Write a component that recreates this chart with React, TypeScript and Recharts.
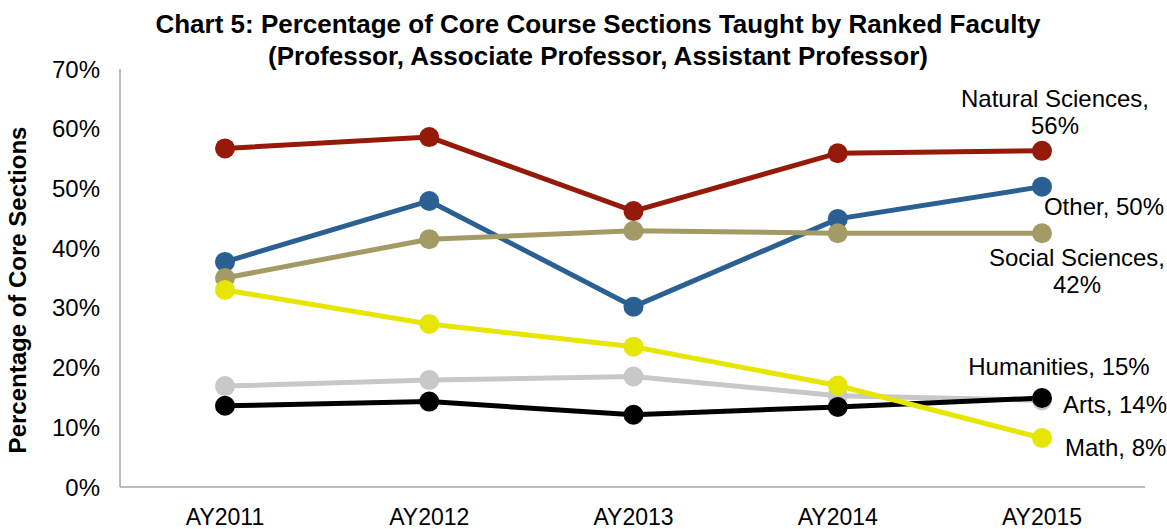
import { LineChart, Line, XAxis, YAxis, LabelList } from 'recharts'

const years = ['AY2011', 'AY2012', 'AY2013', 'AY2014', 'AY2015']
const naturalSciences = [56.7, 58.6, 46.2, 55.9, 56.3]
const other = [37.7, 47.9, 30.2, 44.9, 50.3]
const socialSciences = [35.0, 41.5, 42.9, 42.5, 42.5]
const math = [33.0, 27.3, 23.5, 17.0, 8.2]
const arts = [16.9, 17.9, 18.5, 15.3, 14.5]
const humanities = [13.6, 14.3, 12.1, 13.4, 14.9]
const yTicks = [0, 10, 20, 30, 40, 50, 60, 70]

const data = years.map((year, i) => ({
  year,
  naturalSciences: naturalSciences[i],
  other: other[i],
  socialSciences: socialSciences[i],
  math: math[i],
  arts: arts[i],
  humanities: humanities[i]
}))

const font = 'Arial, "Liberation Sans", sans-serif'

interface EndLabelSpec {
  lines: string[]
  dx: number
  dy: number[]
  anchor: 'start' | 'middle'
}

// only the last point gets a label, like the Excel original
const endLabel = (spec: EndLabelSpec) => (props: any) => {
  const { x, y, index } = props
  if (index !== years.length - 1) return null
  return (
    <text fontSize={24} fontFamily={font} fill="#000" textAnchor={spec.anchor}>
      {spec.lines.map((l, i) => (
        <tspan key={i} x={x + spec.dx} y={y + spec.dy[i]}>{l}</tspan>
      ))}
    </text>
  )
}

const series = [
  { key: 'naturalSciences', color: '#961A0A', label: { lines: ['Natural Sciences,', '56%'], dx: 13, dy: [-44, -17], anchor: 'middle' } },
  { key: 'other', color: '#2A6092', label: { lines: ['Other, 50%'], dx: 62, dy: [28], anchor: 'middle' } },
  { key: 'socialSciences', color: '#A39A66', label: { lines: ['Social Sciences,', '42%'], dx: 35, dy: [33, 60], anchor: 'middle' } },
  { key: 'arts', color: '#C8C8C8', label: { lines: ['Arts, 14%'], dx: 21, dy: [13], anchor: 'start' } },
  { key: 'humanities', color: '#000000', label: { lines: ['Humanities, 15%'], dx: 17, dy: [-23], anchor: 'middle' } },
  { key: 'math', color: '#E6E600', label: { lines: ['Math, 8%'], dx: 23, dy: [18], anchor: 'start' } }
] as { key: string; color: string; label: EndLabelSpec }[]

const YTitle = () => (
  <text
    x={26}
    y={290}
    transform="rotate(-90 26 290)"
    textAnchor="middle"
    fontSize={24}
    fontWeight="bold"
    fontFamily={font}
    fill="#000"
  >
    Percentage of Core Sections
  </text>
)

export default function App() {
  return (
    <div style={{ position: 'absolute', left: 0, top: 0, width: 1167, height: 529, background: '#fff' }}>
      <div
        style={{
          position: 'absolute',
          left: 98,
          top: 8,
          width: 1000,
          textAlign: 'center',
          fontFamily: font,
          fontWeight: 'bold',
          fontSize: 26,
          lineHeight: '32px',
          color: '#000'
        }}
      >
        Chart 5: Percentage of Core Course Sections Taught by Ranked Faculty
        <br />
        (Professor, Associate Professor, Assistant Professor)
      </div>
      <LineChart width={1167} height={529} data={data} margin={{ top: 69, right: 22, bottom: 0, left: 0 }}>
        <XAxis
          dataKey="year"
          height={42}
          padding={{ left: 105, right: 103 }}
          stroke="#A6A6A6"
          strokeWidth={1.5}
          tickLine={false}
          tickSize={0}
          tickMargin={22}
          tick={{ fill: '#000', fontSize: 23, fontFamily: font }}
        />
        <YAxis
          width={120}
          domain={[0, 70]}
          ticks={yTicks}
          tickFormatter={(v: number) => `${v}%`}
          stroke="#A6A6A6"
          strokeWidth={1.5}
          tickLine={false}
          tickSize={0}
          tickMargin={20}
          tick={{ fill: '#000', fontSize: 24, fontFamily: font }}
          label={{ content: () => <YTitle /> }}
        />
        {series.map(s => (
          <Line
            key={s.key}
            dataKey={s.key}
            type="linear"
            stroke={s.color}
            strokeWidth={5}
            dot={{ r: 10, fill: s.color, stroke: s.color, strokeWidth: 0 }}
            activeDot={false}
            isAnimationActive={false}
          >
            <LabelList dataKey={s.key} content={endLabel(s.label)} />
          </Line>
        ))}
      </LineChart>
    </div>
  )
}
